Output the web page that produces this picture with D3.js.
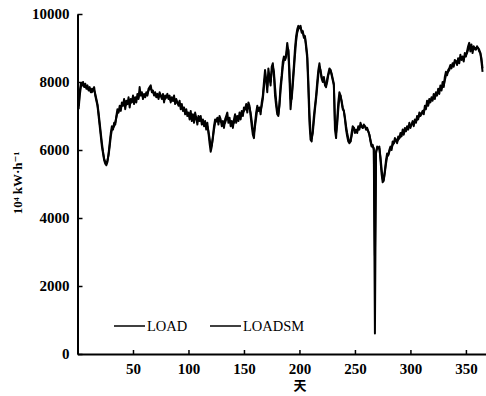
<!DOCTYPE html>
<html><head><meta charset="utf-8">
<script src="https://cdn.jsdelivr.net/npm/d3@7"></script>
<style>body{margin:0;background:#fff}svg{display:block}</style>
</head><body><svg id="c" width="486" height="396"></svg>
<script>
const seriesNames = ["LOAD", "LOADSM"];
const xTicks = [50, 100, 150, 200, 250, 300, 350];
const yTicks = [0, 2000, 4000, 6000, 8000, 10000];
const xTitle = "天";
const yTitle = "10⁴ kW·h⁻¹";
// daily values, day 1..365
const load = [
7300,7700,7950,7900,8000,7850,7950,7800,7900,7750,
7850,7700,7800,7750,7850,7600,7450,7300,7000,6700,
6400,6100,5900,5700,5600,5550,5650,5900,6200,6500,
6700,6600,6800,6750,7000,7200,7100,7300,7150,7400,
7300,7500,7200,7450,7350,7550,7250,7500,7400,7600,
7350,7550,7400,7650,7500,7850,7600,7700,7500,7650,
7550,7700,7600,7800,7850,7900,7700,7750,7600,7700,
7550,7650,7500,7700,7600,7500,7650,7400,7600,7550,
7650,7500,7600,7400,7550,7450,7600,7350,7500,7400,
7300,7450,7200,7350,7150,7250,7050,7200,7000,7100,
6900,7150,6850,7050,6800,7100,6950,6750,7000,6850,
7000,6750,6900,6700,6850,6600,6800,6500,6200,5950,
6100,6400,6700,6900,6850,6950,6750,7000,6900,6700,
6850,6650,6900,7000,7100,6800,6950,6700,6850,6650,
6900,7050,6800,7000,6850,7100,6900,7150,7000,7250,
7200,7350,7100,7400,7300,7000,6700,6450,6350,6800,
7100,7300,7150,7250,7050,7400,7600,8000,8350,8100,
7700,8400,8150,7900,8450,8550,8200,7600,7300,7050,
7000,7400,7900,8200,8600,8750,8650,8800,9150,8900,
8100,7200,7600,8050,8500,9000,9350,9550,9650,9600,
9650,9450,9500,9300,9350,9000,8700,7800,6800,6300,
6250,6600,7000,7300,7600,8000,8350,8550,8300,8100,
8000,8150,7900,7850,8100,8250,8400,8350,8200,8050,
7900,6600,6350,6900,7400,7700,7600,7400,7200,7150,
6900,6600,6400,6250,6200,6250,6500,6700,6650,6500,
6600,6500,6700,6600,6800,6700,6650,6750,6700,6600,
6650,6550,6450,6250,6100,6150,6000,600,5900,6100,
6050,6100,5700,5300,5050,5100,5400,5700,5900,5850,
6000,6100,6000,6250,6200,6350,6300,6200,6400,6350,
6500,6400,6600,6450,6650,6550,6700,6600,6800,6650,
6750,6850,6700,6900,6800,7000,6900,7100,7000,7050,
7150,7050,7300,7200,7450,7300,7500,7400,7550,7450,
7650,7500,7700,7600,7800,7650,7900,7750,8000,7850,
8150,8300,8200,8350,8400,8500,8400,8550,8450,8650,
8600,8500,8700,8550,8800,8650,8750,8600,8850,8750,
8900,9050,9150,8900,9100,8850,9050,9000,8950,9050,
9000,8900,8850,8600,8300
];
const loadsm = [
7200,7600,7850,7950,7900,7900,7850,7850,7800,7800,
7750,7750,7700,7800,7750,7650,7500,7350,7100,6800,
6500,6200,5950,5750,5650,5600,5700,5850,6100,6400,
6600,6650,6700,6800,6950,7100,7150,7200,7250,7300,
7350,7400,7300,7350,7400,7450,7350,7400,7450,7500,
7450,7450,7500,7550,7550,7700,7650,7650,7600,7600,
7600,7650,7650,7750,7800,7800,7750,7700,7650,7650,
7600,7600,7550,7600,7600,7550,7550,7500,7500,7550,
7550,7550,7500,7450,7500,7450,7500,7400,7400,7400,
7350,7350,7300,7250,7250,7200,7150,7100,7100,7050,
7000,7000,6950,6950,6900,6950,6900,6850,6900,6900,
6900,6850,6800,6800,6750,6700,6700,6550,6350,6100,
6150,6350,6600,6800,6850,6850,6850,6900,6850,6800,
6750,6750,6800,6900,6950,6900,6850,6800,6750,6750,
6800,6900,6900,6950,6950,7000,7000,7050,7100,7150,
7200,7250,7200,7300,7250,7100,6850,6600,6500,6700,
6950,7200,7200,7200,7150,7300,7500,7850,8150,8100,
7850,8200,8200,8000,8300,8450,8300,7850,7450,7150,
7050,7300,7750,8100,8450,8650,8650,8750,9000,8950,
8350,7500,7500,7900,8350,8800,9200,9450,9550,9600,
9600,9500,9450,9350,9300,9100,8800,8050,7100,6500,
6350,6500,6850,7200,7500,7850,8200,8450,8350,8150,
8050,8100,7950,7900,8000,8200,8300,8350,8250,8100,
7950,6850,6500,6750,7200,7550,7600,7450,7250,7150,
6950,6700,6500,6350,6250,6250,6400,6600,6650,6550,
6550,6550,6650,6650,6700,6700,6650,6700,6700,6650,
6600,6550,6450,6300,6150,6100,6050,2900,5950,6050,
6050,6050,5800,5450,5150,5150,5350,5600,5800,5850,
5950,6050,6050,6150,6200,6250,6300,6250,6300,6350,
6400,6450,6500,6500,6550,6600,6650,6650,6700,6700,
6750,6800,6800,6850,6850,6900,6950,7000,7050,7100,
7100,7150,7200,7250,7350,7350,7450,7450,7500,7500,
7550,7600,7650,7650,7700,7750,7800,7800,7900,7900,
8050,8200,8250,8300,8350,8450,8450,8500,8500,8600,
8600,8600,8650,8650,8700,8700,8700,8700,8750,8800,
8850,8950,9050,9000,9000,8950,8950,9000,9000,9000,
9000,8950,8850,8700,8400
];

const svg = d3.select("#c");
const serif = "'Liberation Serif','DejaVu Serif',serif";
const x = d3.scaleLinear().domain([0, 369]).range([77.5, 487]);
const y = d3.scaleLinear().domain([0, 10000]).range([354, 14]);

const line = d3.line().x((d, i) => x(i + 1)).y(d => y(d));
[load, loadsm].forEach((s, k) => {
  svg.append("path").datum(s).attr("d", line)
    .attr("fill", "none").attr("stroke", "#000")
    .attr("stroke-width", 2).attr("stroke-linejoin", "round");
});

// axes
const fmt = d3.format("d");
const xAxis = svg.append("g").attr("transform", "translate(0,354)")
  .call(d3.axisBottom(x).tickValues(xTicks).tickFormat(fmt).tickSizeInner(-4).tickSizeOuter(0).tickPadding(9));
const yAxis = svg.append("g").attr("transform", "translate(77.5,0)")
  .call(d3.axisLeft(y).tickValues(yTicks).tickFormat(fmt).tickSizeInner(-5).tickSizeOuter(0).tickPadding(8));
[xAxis, yAxis].forEach(g => {
  g.select(".domain").attr("stroke", "#000").attr("stroke-width", 2);
  g.selectAll(".tick line").attr("stroke", "#000").attr("stroke-width", 1.5);
  g.selectAll("text").attr("fill", "#000").attr("font-family", serif)
    .attr("font-size", 15).attr("font-weight", "bold");
});

svg.append("text").attr("x", 300).attr("y", 390).attr("text-anchor", "middle")
  .attr("font-family", "'Noto Sans CJK SC',sans-serif").attr("font-size", 13).attr("font-weight", "bold")
  .text(xTitle);
svg.append("text").attr("transform", "translate(22,183) rotate(-90)").attr("text-anchor", "middle")
  .attr("font-family", serif).attr("font-size", 13).attr("font-weight", "bold")
  .text(yTitle);

// legend
const legX = [114, 210];
seriesNames.forEach((n, i) => {
  svg.append("line").attr("x1", legX[i]).attr("x2", legX[i] + 31)
    .attr("y1", 326).attr("y2", 326).attr("stroke", "#000").attr("stroke-width", 1.5);
  svg.append("text").attr("x", legX[i] + 33).attr("y", 331)
    .attr("font-family", serif).attr("font-size", 14.5).text(n);
});
</script></body></html>
